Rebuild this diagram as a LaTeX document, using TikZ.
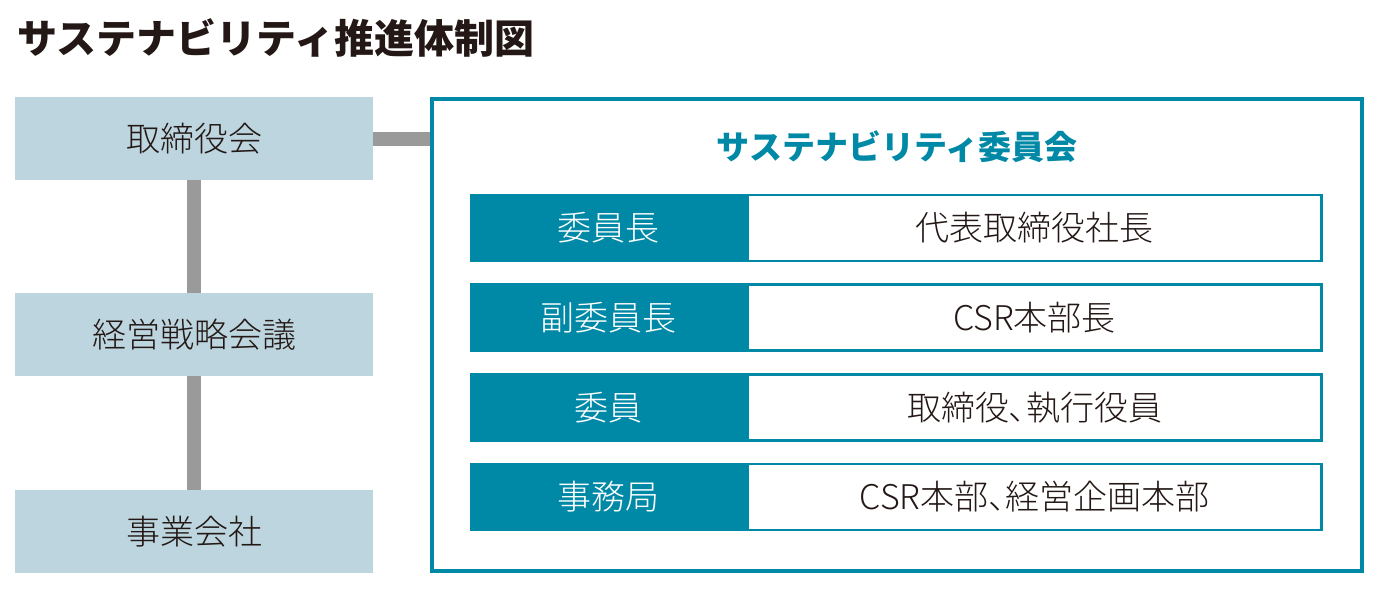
\documentclass[tikz,border=0pt]{standalone}
\usepackage{fontspec}
\usepackage{xcolor}
\usepackage{tikz}
\newfontfamily\cjk{Noto Sans CJK JP}
\newfontfamily\cjklight{Noto Sans CJK JP Light}[RawFeature=+palt]
\definecolor{boardblue}{HTML}{BCD5DE}
\definecolor{cmteal}{HTML}{0089A6}
\definecolor{linkgray}{HTML}{9A9A9A}
\definecolor{inkdark}{HTML}{231815}
\tikzset{
    orgbox/.style={fill=boardblue, minimum width=358pt, minimum height=83pt, inner sep=0pt,
        text=inkdark, font=\cjklight\fontsize{34}{34}\selectfont},
    rolebox/.style={fill=cmteal, minimum width=276pt, minimum height=68.5pt, inner sep=0pt,
        text=white, font=\cjklight\fontsize{34}{34}\selectfont},
    memberbox/.style={draw=cmteal, line width=2.6pt, fill=white, minimum width=574pt,
        minimum height=66pt, inner sep=0pt, text=inkdark, font=\cjklight\fontsize{34}{34}\selectfont},
    link/.style={linkgray, line width=14pt}
}
\begin{document}
\begin{tikzpicture}[x=1pt, y=-1pt]
        \useasboundingbox (0,0) rectangle (1379,595);
        \node[anchor=west, inner sep=0pt, text=inkdark, font=\cjk\bfseries\fontsize{40}{40}\selectfont]
            (title) at (17,38) {サステナビリティ推進体制図};

        \node[orgbox] (board) at (194,138.5) {取締役会};
        \node[orgbox] (strategy) at (194,334.5) {経営戦略会議};
        \node[orgbox] (group) at (194,531.5) {事業会社};

        \node[draw=cmteal, line width=4pt, minimum width=930pt, minimum height=472pt, inner sep=0pt]
            (committee) at (897,335) {};
        \node[text=cmteal, font=\cjk\bfseries\fontsize{33}{33}\selectfont]
            (cmtitle) at (897,147) {サステナビリティ委員会};

        \node[rolebox] (chair) at (608,228) {委員長};
        \node[memberbox, anchor=west] (chairwho) at (chair.east) {代表取締役社長};
        \node[rolebox] (vice) at (608,317.5) {副委員長};
        \node[memberbox, anchor=west] (vicewho) at (vice.east) {CSR本部長};
        \node[rolebox] (member) at (608,407.5) {委員};
        \node[memberbox, anchor=west] (memberwho) at (member.east) {取締役、執行役員};
        \node[rolebox] (office) at (608,496.8) {事務局};
        \node[memberbox, anchor=west] (officewho) at (office.east) {CSR本部、経営企画本部};

        \draw[link] (board) -- (strategy);
        \draw[link] (strategy) -- (group);
        \draw[link] (board.east) -- (board.east -| committee.west);
    \end{tikzpicture}
\end{document}
